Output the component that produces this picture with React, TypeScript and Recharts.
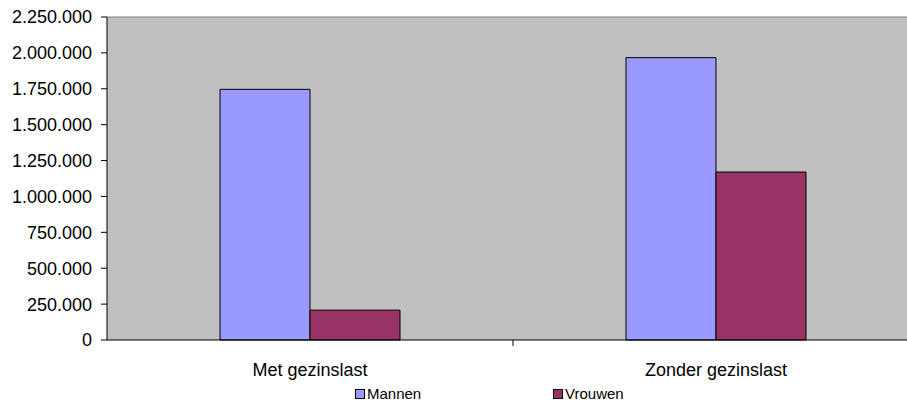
import { BarChart, Bar, XAxis, YAxis, CartesianGrid, Legend, ReferenceLine } from 'recharts';

// categorieën en waarden
const categories = ['Met gezinslast', 'Zonder gezinslast'];
const mannen = [1746000, 1967000];
const vrouwen = [208000, 1170000];
const yTicks = [0, 250000, 500000, 750000, 1000000, 1250000, 1500000, 1750000, 2000000, 2250000];

const data = categories.map((name, i) => ({ name, Mannen: mannen[i], Vrouwen: vrouwen[i] }));

const FONT = 'Arial, "Liberation Sans", sans-serif';
const CHART_W = 919;
const Y_W = 107;
const BAND = (CHART_W - Y_W) / categories.length;

// 1750000 -> "1.750.000"
const fmt = (v: number) => String(v).replace(/\B(?=(\d{3})+(?!\d))/g, '.');

// label in het midden, streepje op de grens tussen categorieën
const CategoryTick = ({ x, y, payload, index }: any) => (
  <g>
    {index > 0 && <line x1={x - BAND / 2} x2={x - BAND / 2} y1={y} y2={y + 6} stroke="#000" />}
    <text x={x} y={y + 36} textAnchor="middle" fontSize={18} fontFamily={FONT} fill="#000">
      {payload.value}
    </text>
  </g>
);

const LegendContent = () => (
  <div style={{ position: 'relative', height: 22, fontFamily: FONT, fontSize: 15 }}>
    {[
      { label: 'Mannen', color: '#9999FF', left: 355 },
      { label: 'Vrouwen', color: '#993366', left: 553 },
    ].map((it) => (
      <div key={it.label} style={{ position: 'absolute', left: it.left, top: 4, display: 'flex', alignItems: 'center' }}>
        <span style={{ width: 8, height: 8, background: it.color, border: '1px solid #000', marginRight: 2 }} />
        <span>{it.label}</span>
      </div>
    ))}
  </div>
);

export default function App() {
  return (
    <div style={{ position: 'absolute', left: 0, top: 0, width: 907, height: 403, overflow: 'hidden', background: '#fff' }}>
      <BarChart
        width={CHART_W}
        height={403}
        data={data}
        margin={{ top: 17, right: 0, left: 0, bottom: 0 }}
        barCategoryGap={113}
        barGap={0}
      >
        <CartesianGrid horizontal={false} vertical={false} fill="#C0C0C0" />
        <XAxis
          dataKey="name"
          height={41}
          tickLine={false}
          tickSize={0}
          tickMargin={0}
          axisLine={{ stroke: '#000' }}
          tick={<CategoryTick />}
        />
        <YAxis
          width={Y_W}
          domain={[0, 2250000]}
          ticks={yTicks}
          interval={0}
          tickFormatter={fmt}
          tickSize={6}
          tickMargin={9}
          axisLine={{ stroke: '#000' }}
          tickLine={{ stroke: '#000' }}
          tick={{ fill: '#000', fontSize: 18, fontFamily: FONT }}
        />
        <ReferenceLine y={2250000} stroke="#808080" />
        <Legend verticalAlign="bottom" content={<LegendContent />} wrapperStyle={{ left: 0, width: CHART_W }} />
        <Bar dataKey="Mannen" fill="#9999FF" stroke="#000" isAnimationActive={false} />
        <Bar dataKey="Vrouwen" fill="#993366" stroke="#000" isAnimationActive={false} />
      </BarChart>
    </div>
  );
}
